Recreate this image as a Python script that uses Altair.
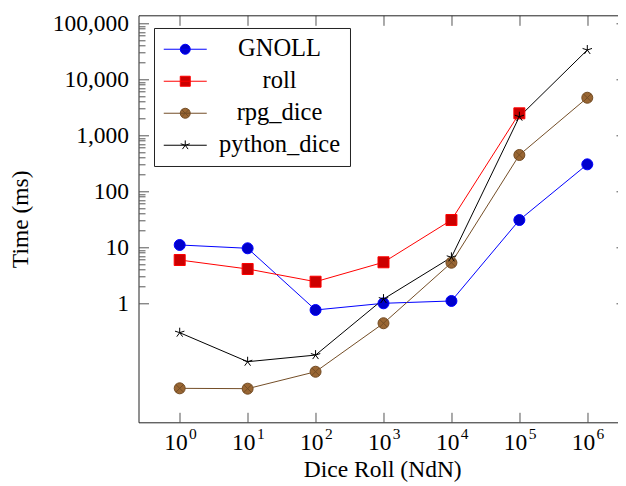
import altair as alt
import pandas as pd

# ---- data ----
dice_sizes = [1, 10, 100, 1000, 10000, 100000, 1000000]
series_names = ["GNOLL", "roll", "rpg_dice", "python_dice"]
gnoll_ms = [11.0, 9.6, 0.76, 1.0, 1.10, 30.7, 303]
roll_ms = [5.93, 4.10, 2.43, 5.40, 30.7, 2470]
rpg_dice_ms = [0.0303, 0.0299, 0.060, 0.44, 5.31, 445, 4690]
python_dice_ms = [0.299, 0.0906, 0.119, 1.19, 6.63, 2150, 33400]

y_major = [1, 10, 100, 1000, 10000, 100000]
y_minor = [m * 10 ** k for k in range(5) for m in range(2, 10)]

rows = []
for name, vals in zip(series_names, [gnoll_ms, roll_ms, rpg_dice_ms, python_dice_ms]):
    for i, v in enumerate(vals):
        rows.append({"series": name, "order": i, "n": dice_sizes[i], "ms": v})
df = pd.DataFrame(rows)

# ---- styles ----
FONT = "Liberation Serif"
FS = 23.5
W, H = 487.5, 407
line_colors = ["#0000ff", "#ff0000", "#734d26", "#000000"]
fill_colors = ["#0000cc", "#cc0000", "#996633", "#000000"]

otimes = "M1,0A1,1,0,1,1,-1,0A1,1,0,1,1,1,0ZM-0.7,-0.7L0.7,0.7M-0.7,0.7L0.7,-0.7"
star = ("M0,0L0,-0.9M0,0L0.856,-0.278M0,0L-0.856,-0.278"
        "M0,0L-0.529,0.728M0,0L0.529,0.728")
plot_shapes = ["circle", "square", otimes, star]

LN = "M-2.15,0H2.15"
leg_shapes = [
    LN + "M0.5,0A0.5,0.5,0,1,1,-0.5,0A0.5,0.5,0,1,1,0.5,0Z",
    LN + "M-0.5,-0.5H0.5V0.5H-0.5Z",
    LN + "M0.5,0A0.5,0.5,0,1,1,-0.5,0A0.5,0.5,0,1,1,0.5,0ZM-0.35,-0.35L0.35,0.35M-0.35,0.35L0.35,-0.35",
    LN + "M0,0L0,-0.48M0,0L0.456,-0.148M0,0L-0.456,-0.148M0,0L-0.282,0.388M0,0L0.282,0.388",
]

xs = alt.Scale(type="log", domain=[10 ** -0.6065, 10 ** 6.5697], nice=False)
ys = alt.Scale(type="log", domain=[10 ** -2.125, 10 ** 5.143], nice=False)

TICK = "#555"

axF = alt.Axis(values=dice_sizes, labelExpr="'10'", labelFont=FONT, labelFontSize=FS,
               labelColor="black", labelAlign="center", labelOffset=-4.3,
               labelBaseline="alphabetic", labelPadding=27, labelFlush=False,
               labelOverlap=False, ticks=False, domain=True, domainColor="#222",
               domainWidth=1, grid=False, title="Dice Roll (NdN)", titleFont=FONT,
               titleFontSize=FS, titleFontWeight="normal", titleColor="black",
               titleX=W / 2, titleY=54.7, titleAlign="center", titleBaseline="alphabetic")
axExp = alt.Axis(orient="bottom", values=dice_sizes,
                 labelExpr="'' + round(log(datum.value) / LN10)", labelFont=FONT,
                 labelFontSize=15.5, labelColor="black", labelAlign="center", labelOffset=12.7,
                 labelBaseline="alphabetic", labelPadding=16, labelFlush=False,
                 labelOverlap=False, ticks=False, domain=False, grid=False, title=None)
axG = alt.Axis(orient="top", offset=-H, values=dice_sizes, labels=False, domain=False,
               ticks=True, tickSize=10, tickColor=TICK, tickWidth=1, grid=False, title=None)
axH = alt.Axis(orient="bottom", offset=-H, values=dice_sizes, labels=False, domain=True,
               domainColor="#222", domainWidth=1, ticks=True, tickSize=10, tickColor=TICK,
               tickWidth=1, grid=False, title=None)

axA = alt.Axis(orient="left", values=y_major, format=",d", labelFont=FONT, labelFontSize=FS,
               labelColor="black", labelPadding=10, labelFlush=False, labelOverlap=False,
               ticks=False, domain=True, domainColor="#222", domainWidth=1, grid=False,
               title="Time (ms)", titleFont=FONT, titleFontSize=FS, titleFontWeight="normal",
               titleColor="black", titleX=-118.5, titleY=H / 2, titleAngle=270,
               titleAlign="center", titleBaseline="middle")
axB = alt.Axis(orient="right", offset=-W, values=y_major, labels=False, domain=False,
               ticks=True, tickSize=10, tickColor=TICK, tickWidth=1, grid=False, title=None)
axC = alt.Axis(orient="right", offset=-W, values=y_minor, labels=False, domain=False,
               ticks=True, tickSize=6.5, tickColor=TICK, tickWidth=1, grid=False, title=None)
axD = alt.Axis(orient="left", offset=-W, values=y_major, labels=False, domain=False,
               ticks=True, tickSize=10, tickColor=TICK, tickWidth=1, grid=False, title=None)
axE = alt.Axis(orient="left", offset=-W, values=y_minor, labels=False, domain=False,
               ticks=True, tickSize=6.5, tickColor=TICK, tickWidth=1, grid=False, title=None)

base = alt.Chart(df)

lines = base.mark_line(strokeWidth=1).encode(
    x=alt.X("n:Q", scale=xs, axis=axF),
    y=alt.Y("ms:Q", scale=ys, axis=axA),
    stroke=alt.Stroke("series:N", scale=alt.Scale(domain=series_names, range=line_colors), legend=None),
    order=alt.Order("order:Q"),
)

points = base.mark_point(size=121, strokeWidth=1, opacity=1, fillOpacity=1).encode(
    x=alt.X("n:Q", scale=xs, axis=axG),
    y=alt.Y("ms:Q", scale=ys, axis=axB),
    shape=alt.Shape("series:N", scale=alt.Scale(domain=series_names, range=plot_shapes), legend=None),
    fill=alt.Fill("series:N", scale=alt.Scale(domain=series_names, range=fill_colors), legend=None),
    stroke=alt.Stroke("series:N", scale=alt.Scale(domain=series_names, range=line_colors), legend=None),
)

leg = alt.Legend(title=None, orient="none", legendX=15.5, legendY=12.7, padding=9,
                 strokeColor="#222", fillColor="white", cornerRadius=0,
                 labelFont=FONT, labelFontSize=24.5, labelColor="black", labelAlign="center",
                 labelOffset=82, symbolSize=400, symbolStrokeWidth=1, symbolOffset=10,
                 rowPadding=7, symbolOpacity=1)

legend_layer = base.mark_point(size=400, strokeWidth=1, opacity=0).encode(
    x=alt.X("n:Q", scale=xs, axis=axH),
    y=alt.Y("ms:Q", scale=ys, axis=axC),
    shape=alt.Shape("series:N", scale=alt.Scale(domain=series_names, range=leg_shapes), legend=leg),
    fill=alt.Fill("series:N", scale=alt.Scale(domain=series_names, range=fill_colors), legend=leg),
    stroke=alt.Stroke("series:N", scale=alt.Scale(domain=series_names, range=line_colors), legend=leg),
)

helper1 = base.mark_point(opacity=0).encode(
    x=alt.X("n:Q", scale=xs, axis=axExp),
    y=alt.Y("ms:Q", scale=ys, axis=axD),
)
helper2 = base.mark_point(opacity=0).encode(
    x=alt.X("n:Q", scale=xs, axis=None),
    y=alt.Y("ms:Q", scale=ys, axis=axE),
)

chart = alt.layer(lines, points, legend_layer, helper1, helper2).resolve_axis(
    x="independent", y="independent"
).resolve_scale(
    shape="independent", fill="independent", stroke="independent"
).properties(
    width=W, height=H,
    autosize=alt.AutoSizeParams(type="none"),
    padding={"left": 130.5, "top": 7.3, "right": -8.5, "bottom": 63},
).configure_view(stroke=None)

chart.save("out.html", embed_options={"renderer": "svg", "actions": False})
